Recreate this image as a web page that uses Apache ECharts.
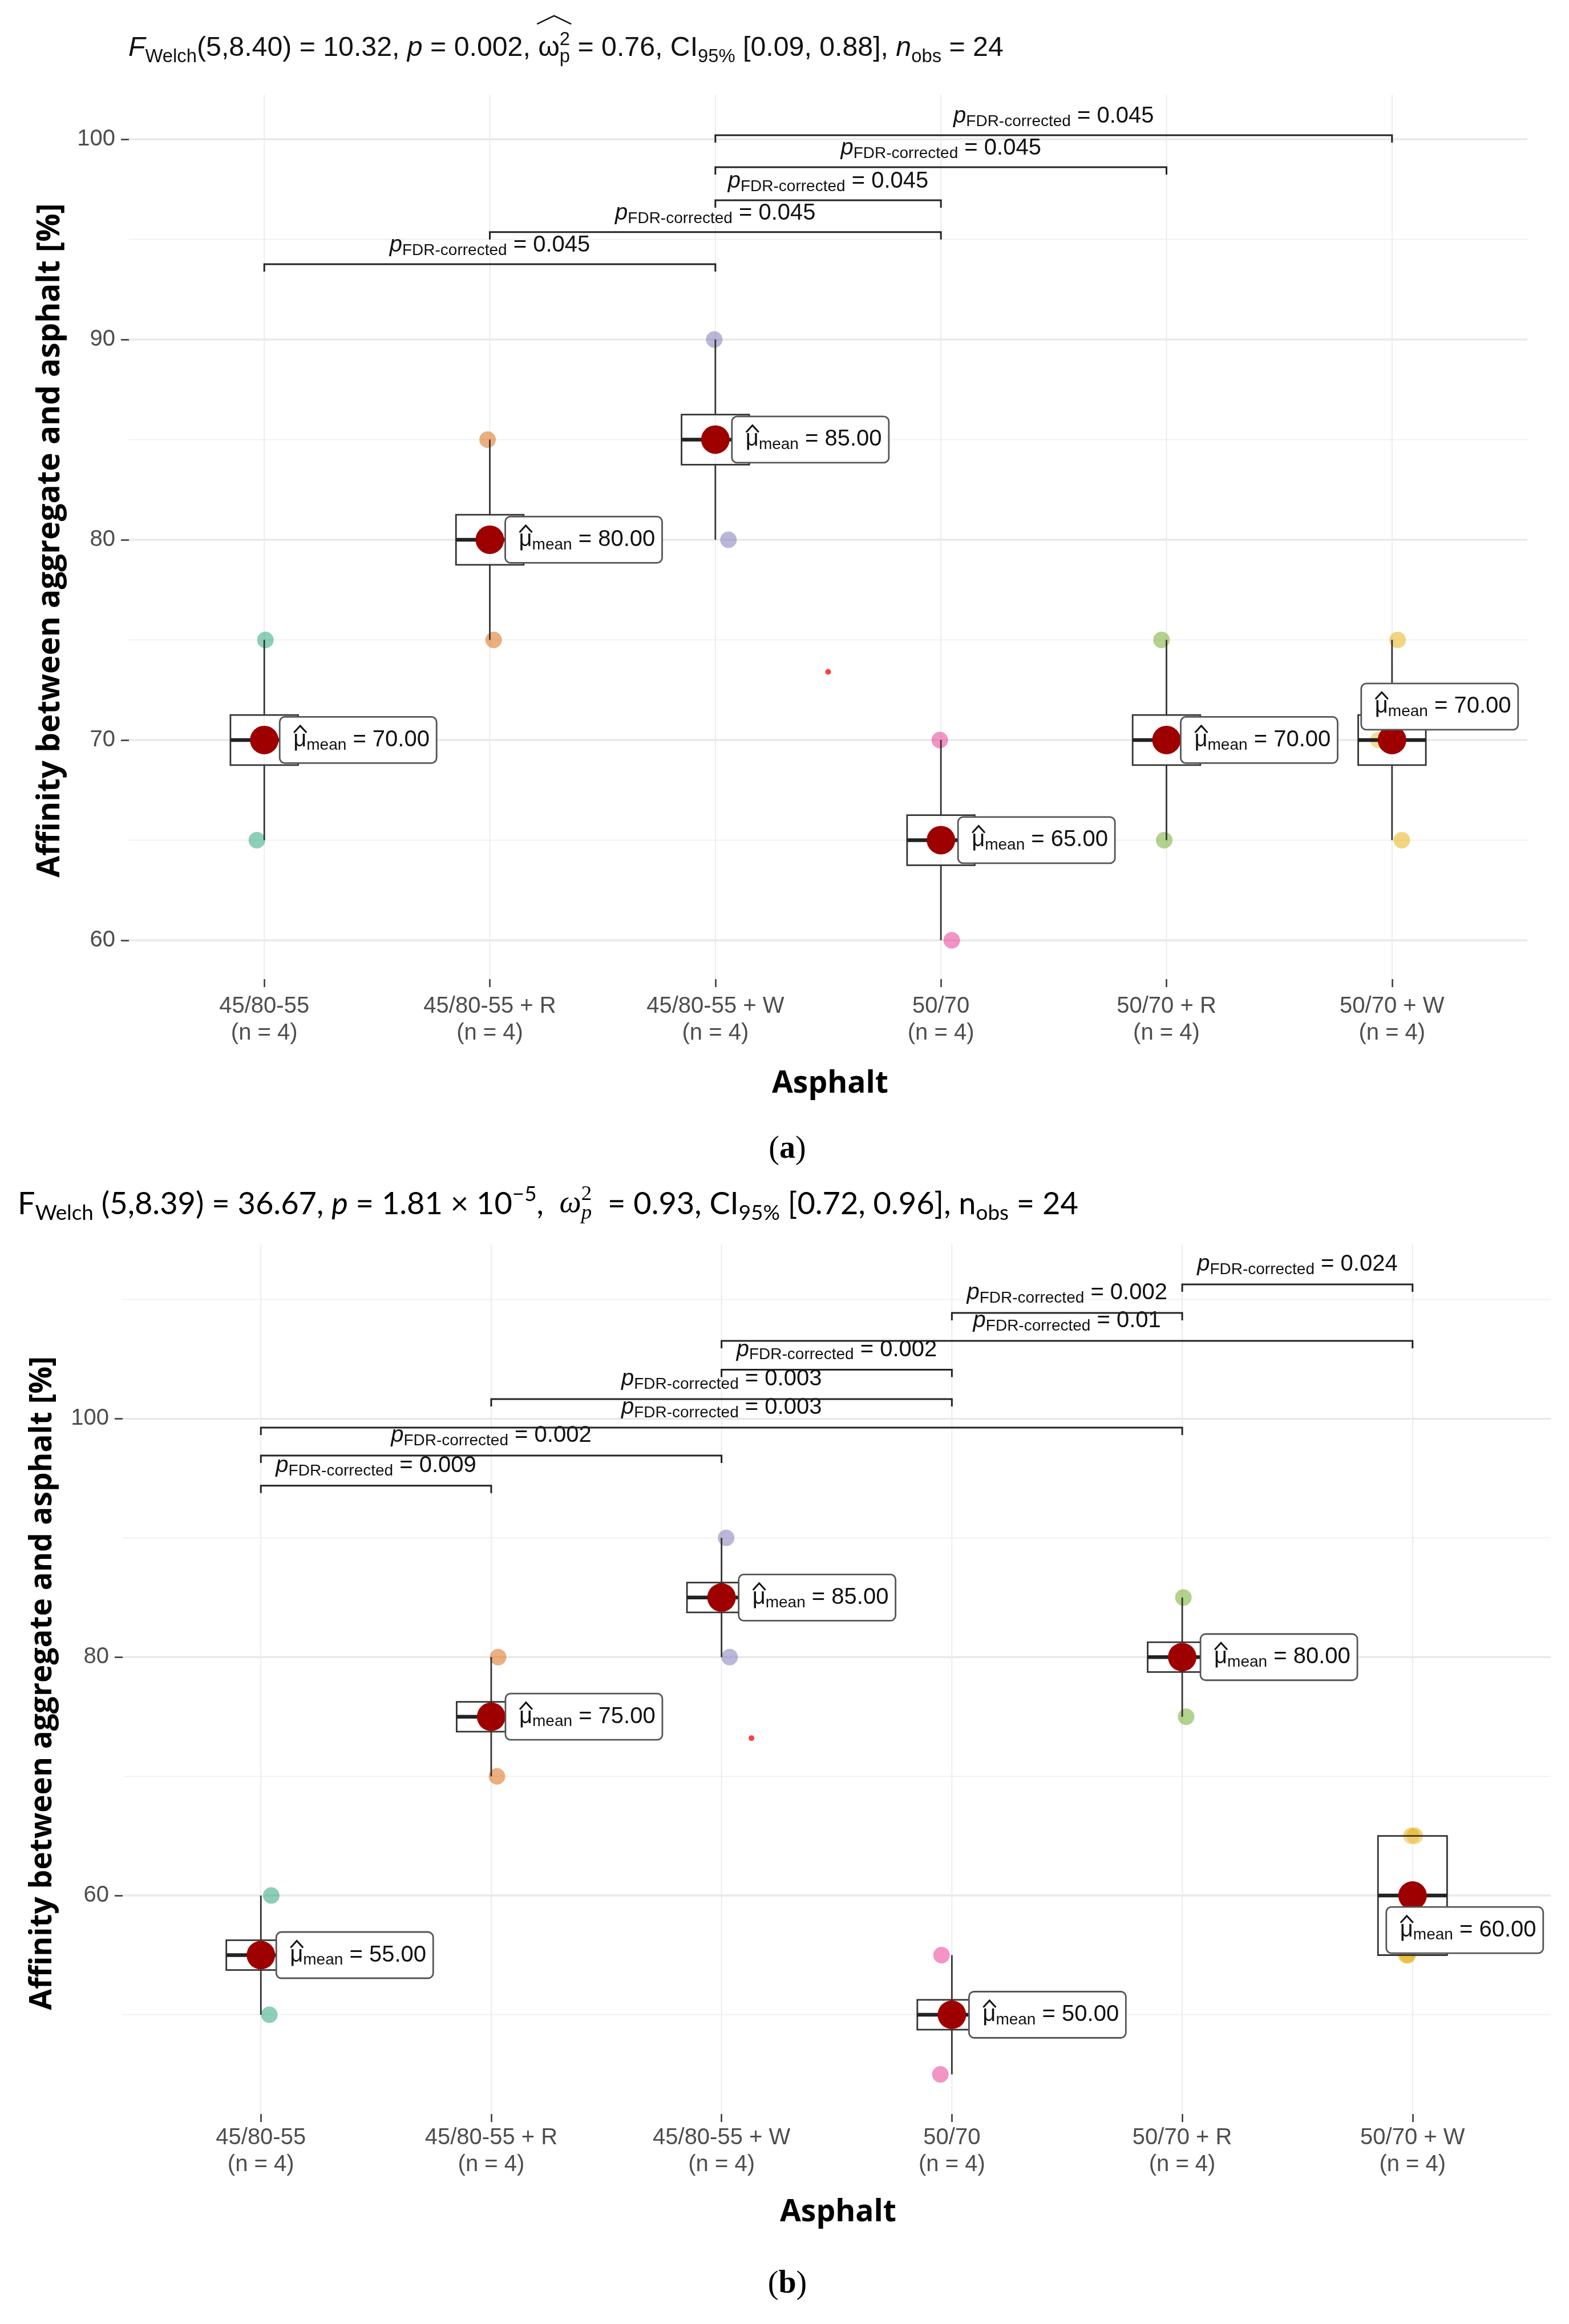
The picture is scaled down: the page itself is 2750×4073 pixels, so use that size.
<!DOCTYPE html>
<html><head><meta charset="utf-8">
<script src="https://cdn.jsdelivr.net/npm/echarts@6/dist/echarts.min.js"></script>
<style>html,body{margin:0;padding:0;background:#fff}#c{width:2750px;height:4073px}</style>
</head><body><div id="c"></div>
<script>
// ================= DATA =================
const groups = ['45/80-55', '45/80-55 + R', '45/80-55 + W', '50/70', '50/70 + R', '50/70 + W'];

// panel (a)
const valuesA = [[75, 70, 70, 65], [85, 80, 80, 75], [90, 85, 85, 80], [70, 65, 65, 60], [75, 70, 70, 65], [75, 70, 70, 65]];
const jitterA = [[0.005, -0.02, 0.02, -0.033], [-0.01, 0.02, -0.02, 0.017], [-0.005, 0.02, -0.02, 0.058], [-0.005, 0.02, -0.02, 0.048], [-0.022, 0.02, -0.02, -0.01], [0.025, -0.06, 0.02, 0.043]];
const yTicksA = [60, 70, 80, 90, 100];
const yMinorA = [65, 75, 85, 95];
const pairsA = [[0, 2], [1, 3], [2, 3], [2, 4], [2, 5]];
const pHeightsA = [93.76, 95.36, 96.95, 98.6, 100.2];
const pValuesA = ['0.045', '0.045', '0.045', '0.045', '0.045'];
const strayA = [[2.5, 73.4]];
const titleA = { F: '(5,8.40) = 10.32, ', p: ' = 0.002, ', w: ' = 0.76, CI', ci: ' [0.09, 0.88], ', n: ' = 24' };

// panel (b)
const valuesB = [[60, 55, 55, 50], [80, 75, 75, 70], [90, 85, 85, 80], [55, 50, 50, 45], [85, 80, 80, 75], [65, 65, 55, 55]];
const jitterB = [[0.045, 0.02, -0.02, 0.037], [0.03, 0.02, -0.02, 0.025], [0.02, 0.02, -0.02, 0.035], [-0.045, 0.02, -0.02, -0.05], [0.005, 0.02, -0.02, 0.017], [-0.005, 0.01, -0.027, -0.02]];
const yTicksB = [60, 80, 100];
const yMinorB = [50, 70, 90, 110];
const pairsB = [[0, 1], [0, 2], [0, 4], [1, 3], [2, 3], [2, 5], [3, 4], [4, 5]];
const pHeightsB = [94.38, 96.91, 99.26, 101.65, 104.11, 106.53, 108.88, 111.27];
const pValuesB = ['0.009', '0.002', '0.003', '0.003', '0.002', '0.01', '0.002', '0.024'];
const strayB = [[2.13, 73.2]];
const titleB = { F: ' (5,8.39) = 36.67, ', p: ' = 1.81 × 10', exp: '−5', w: '  = 0.93, CI', ci: ' [0.72, 0.96], n', n: ' = 24' };

const yTitle = 'Affinity between aggregate and asphalt [%]';
const xTitle = 'Asphalt';

// ================= STYLE / LAYOUT =================
const palette = ['#1B9E77', '#D95F02', '#7570B3', '#E7298A', '#66A61E', '#E6AB02'];
const FONT = "'Liberation Sans', Arial, Helvetica, sans-serif";
const TITLE_FONT = "'Open Sans', 'DejaVu Sans', sans-serif";
const W = 2750, H = 4073;
const PANELS = [
  { grid: { left: 226, right: 73, top: 166, height: 1550 }, ymin: 58.06, ymax: 102.22,
    labelDx: [27, 27, 29, 30, 25, -54], labelShift: [0, 0, 0, 0, 0, 1.67],
    xLabelMargin: 24, bracketGap: 33,
    titleX: 225, titleBase: 100, titleW: 1534,
    yTitleX: 88, yTitleY: 947, yTitleLen: 1182,
    xTitleX: 1455, xTitleY: 1900, tagY: 2015 },
  { grid: { left: 215, right: 32, top: 2181, height: 1524 }, ymin: 41.67, ymax: 114.62,
    labelDx: [27, 25, 30, 30, 32, -46], labelShift: [0, 0, 0, 0, 0, -2.9],
    xLabelMargin: 18, bracketGap: 35,
    titleX: 31, titleBase: 2127, titleW: 1859,
    yTitleX: 75, yTitleY: 2950, yTitleLen: 1146,
    xTitleX: 1469, xTitleY: 3878, tagY: 4004 }
];
const BOX_W = 0.3;
const LBL_W = 275, LBL_H = 81, LBL_PAD = 24;

// ================= HELPERS =================
function quantile(sorted, q) {
  const pos = (sorted.length - 1) * q, lo = Math.floor(pos), hi = Math.ceil(pos);
  return sorted[lo] + (sorted[hi] - sorted[lo]) * (pos - lo);
}
function boxStats(vals) {
  const s = vals.slice().sort((a, b) => a - b);
  const q1 = quantile(s, 0.25), med = quantile(s, 0.5), q3 = quantile(s, 0.75);
  const iqr = q3 - q1;
  const lo = Math.min(...s.filter(v => v >= q1 - 1.5 * iqr - 1e-9));
  const hi = Math.max(...s.filter(v => v <= q3 + 1.5 * iqr + 1e-9));
  return [q1, med, q3, lo, hi];
}
const mean = a => a.reduce((x, y) => x + y, 0) / a.length;

const mctx = document.createElement('canvas').getContext('2d');
function measure(t, size, o) {
  mctx.font = `${o.i ? 'italic ' : ''}${o.b ? 'bold ' : ''}${size}px ${o.fam}`;
  return mctx.measureText(t).width;
}
function buildRow(parts, x0, baseline, targetW, S0, fam, color) {
  function run(S, emit) {
    let x = x0, pendingW = 0; const els = []; const marks = {};
    for (const p of parts) {
      const k = p.k || 'n';
      const small = (k === 'sub' || k === 'sup');
      const size = small ? S * 0.68 : S;
      const o = { i: !!p.i, b: !!p.b, fam: p.fam || fam };
      const w = measure(p.t, size, o);
      const base = baseline + (k === 'sub' ? S * 0.2 : k === 'sup' ? -S * 0.42 : 0);
      if (p.markStart) marks.start = x;
      if (emit) els.push({ type: 'text', x: x, y: base - 0.31 * size, silent: true,
        style: { text: p.t, fontSize: size, fontFamily: o.fam, fontStyle: o.i ? 'italic' : 'normal',
          fontWeight: o.b ? 'bold' : 'normal', fill: color, align: 'left', verticalAlign: 'middle' } });
      if (p.stack) { pendingW = w; } else { x += Math.max(w, pendingW); pendingW = 0; }
      if (p.markEnd) marks.end = x;
    }
    return { w: x - x0, els, marks };
  }
  let S = S0;
  if (targetW) { const r = run(S0, false); S = S0 * targetW / r.w; }
  const res = run(S, true); res.S = S; return res;
}
function fitSize(text, len, o, S0) { return S0 * len / measure(text, S0, o); }

// ================= RENDERERS =================
function gridRenderer(params, api) {
  const kind = api.value(0), v = api.value(1);
  const cs = params.coordSys;
  if (kind === 2) {
    const x = api.coord([v, 0])[0];
    return { type: 'line', silent: true, shape: { x1: x, y1: cs.y, x2: x, y2: cs.y + cs.height }, style: { stroke: '#ececec', lineWidth: 2 } };
  }
  const y = api.coord([0, v])[1];
  return { type: 'line', silent: true, shape: { x1: cs.x, y1: y, x2: cs.x + cs.width, y2: y },
    style: { stroke: kind === 0 ? '#e9e9e9' : '#f2f2f2', lineWidth: kind === 0 ? 3.5 : 2 } };
}
function boxRenderer(params, api) {
  const x = api.value(0), q1 = api.value(1), med = api.value(2), q3 = api.value(3), lo = api.value(4), hi = api.value(5);
  const tl = api.coord([x - BOX_W / 2, q3]);
  const br = api.coord([x + BOX_W / 2, q1]);
  const c = api.coord([x, med]);
  const pLo = api.coord([x, lo]), pHi = api.coord([x, hi]);
  const ch = [];
  const ws = { stroke: '#333', lineWidth: 2.8 };
  if (hi > q3) ch.push({ type: 'line', shape: { x1: c[0], y1: pHi[1], x2: c[0], y2: tl[1] }, style: ws });
  if (lo < q1) ch.push({ type: 'line', shape: { x1: c[0], y1: br[1], x2: c[0], y2: pLo[1] }, style: ws });
  ch.push({ type: 'rect', shape: { x: tl[0], y: tl[1], width: br[0] - tl[0], height: br[1] - tl[1] }, style: { fill: 'rgba(255,255,255,0.2)', stroke: '#333', lineWidth: 2.8 } });
  ch.push({ type: 'line', shape: { x1: tl[0], y1: c[1], x2: br[0], y2: c[1] }, style: { stroke: '#222', lineWidth: 6.5 } });
  return { type: 'group', silent: true, children: ch };
}
const LBL_RICH = {
  mu: { fontSize: 40, fontFamily: FONT, lineHeight: 46, fill: '#111' },
  sub: { fontSize: 28, fontFamily: FONT, lineHeight: 18, verticalAlign: 'bottom', fill: '#111' },
  eq: { fontSize: 40, fontFamily: FONT, lineHeight: 46, fill: '#111' }
};
function makeLabelRenderer(panel, means) {
  return function (params, api) {
    const i = params.dataIndex;
    const p = api.coord([api.value(0), api.value(1) + panel.labelShift[i]]);
    const left = p[0] + panel.labelDx[i], top = p[1] - LBL_H / 2;
    const tx = left + LBL_PAD;
    return { type: 'group', silent: true, children: [
      { type: 'rect', shape: { x: left, y: top, width: LBL_W, height: LBL_H, r: 9 }, style: { fill: '#fff', stroke: '#555', lineWidth: 2.8 } },
      { type: 'text', x: tx, y: p[1], style: { text: `{mu|μ}{sub|mean}{eq| = ${means[i].toFixed(2)}}`, rich: LBL_RICH, align: 'left', verticalAlign: 'middle', fill: '#111', fontSize: 40, fontFamily: FONT } },
      { type: 'polyline', shape: { points: [[tx + 1, p[1] - 13], [tx + 12, p[1] - 25], [tx + 23, p[1] - 13]] }, style: { stroke: '#111', lineWidth: 3, fill: null } }
    ] };
  };
}
const P_RICH = {
  p: { fontSize: 40, fontFamily: FONT, fontStyle: 'italic', lineHeight: 46, fill: '#111' },
  sub: { fontSize: 28, fontFamily: FONT, lineHeight: 18, verticalAlign: 'bottom', fill: '#111' },
  eq: { fontSize: 40, fontFamily: FONT, lineHeight: 46, fill: '#111' }
};
function makeBracketRenderer(pvals, gap) {
  return function (params, api) {
    const i = params.dataIndex;
    const a = api.coord([api.value(0), api.value(2)]);
    const b = api.coord([api.value(1), api.value(2)]);
    const leg = 13;
    return { type: 'group', silent: true, children: [
      { type: 'polyline', shape: { points: [[a[0], a[1] + leg], [a[0], a[1]], [b[0], b[1]], [b[0], b[1] + leg]] }, style: { stroke: '#222', lineWidth: 3, fill: null } },
      { type: 'text', x: (a[0] + b[0]) / 2, y: a[1] - gap, style: { text: `{p|p}{sub|FDR-corrected}{eq| = ${pvals[i]}}`, rich: P_RICH, align: 'center', verticalAlign: 'middle', fill: '#111', fontSize: 40, fontFamily: FONT } }
    ] };
  };
}

// ================= BUILD OPTION =================
const dataSets = [
  { values: valuesA, jitter: jitterA, ticks: yTicksA, minor: yMinorA, pairs: pairsA, heights: pHeightsA, pvals: pValuesA, stray: strayA },
  { values: valuesB, jitter: jitterB, ticks: yTicksB, minor: yMinorB, pairs: pairsB, heights: pHeightsB, pvals: pValuesB, stray: strayB }
];
const grids = [], xAxes = [], yAxes = [], series = [], graphics = [];
const catIdx = groups.map((_, i) => i);

dataSets.forEach((d, k) => {
  const P = PANELS[k];
  grids.push(Object.assign({ containLabel: false }, P.grid));
  xAxes.push({ gridIndex: k, type: 'value', min: -0.6, max: 5.6, position: 'bottom',
    axisLine: { show: false, onZero: false }, splitLine: { show: false },
    axisTick: { show: true, customValues: catIdx, length: 14, lineStyle: { color: '#333', width: 2.5 } },
    axisLabel: { customValues: catIdx, margin: P.xLabelMargin, fontSize: 40, lineHeight: 47, color: '#4d4d4d', fontFamily: FONT,
      formatter: v => { const i = Math.round(v); return groups[i] + '\n(n = ' + d.values[i].length + ')'; } } });
  yAxes.push({ gridIndex: k, type: 'value', min: P.ymin, max: P.ymax, position: 'left',
    axisLine: { show: false, onZero: false }, splitLine: { show: false },
    axisTick: { show: true, customValues: d.ticks, length: 14, lineStyle: { color: '#333', width: 2.5 } },
    axisLabel: { customValues: d.ticks, margin: 24, fontSize: 40, color: '#4d4d4d', fontFamily: FONT } });

  const gridData = d.ticks.map(v => [0, v]).concat(d.minor.map(v => [1, v])).concat(catIdx.map(i => [2, i]));
  series.push({ type: 'custom', xAxisIndex: k, yAxisIndex: k, z: 0, silent: true, renderItem: gridRenderer, data: gridData });

  const pts = [];
  d.values.forEach((vals, i) => vals.forEach((v, j) => pts.push({ value: [i + d.jitter[i][j], v], itemStyle: { color: palette[i] } })));
  series.push({ type: 'scatter', xAxisIndex: k, yAxisIndex: k, z: 2, silent: true, symbolSize: 29, itemStyle: { opacity: 0.5 }, data: pts });

  series.push({ type: 'custom', xAxisIndex: k, yAxisIndex: k, z: 3, silent: true, renderItem: boxRenderer,
    data: d.values.map((vals, i) => [i].concat(boxStats(vals))) });

  const means = d.values.map(mean);
  series.push({ type: 'scatter', xAxisIndex: k, yAxisIndex: k, z: 4, silent: true, symbolSize: 50, itemStyle: { color: '#9e0000', opacity: 1 },
    data: means.map((m, i) => [i, m]) });
  series.push({ type: 'scatter', xAxisIndex: k, yAxisIndex: k, z: 4, silent: true, symbolSize: 10, itemStyle: { color: '#ff1010' }, data: d.stray });

  series.push({ type: 'custom', xAxisIndex: k, yAxisIndex: k, z: 5, silent: true, renderItem: makeLabelRenderer(P, means),
    data: means.map((m, i) => [i, m]) });

  series.push({ type: 'custom', xAxisIndex: k, yAxisIndex: k, z: 5, silent: true, renderItem: makeBracketRenderer(d.pvals, P.bracketGap),
    data: d.pairs.map((pr, i) => [pr[0], pr[1], d.heights[i]]) });

  // axis titles
  const yo = { b: true, fam: TITLE_FONT };
  const ySize = fitSize(yTitle, P.yTitleLen, yo, 48);
  graphics.push({ type: 'text', x: P.yTitleX, y: P.yTitleY, rotation: Math.PI / 2, silent: true,
    style: { text: yTitle, fontSize: ySize, fontFamily: TITLE_FONT, fontWeight: 'bold', fill: '#000', align: 'center', verticalAlign: 'middle' } });
  graphics.push({ type: 'text', x: P.xTitleX, y: P.xTitleY, silent: true,
    style: { text: xTitle, fontSize: fitSize(xTitle, 204, yo, 50), fontFamily: TITLE_FONT, fontWeight: 'bold', fill: '#000', align: 'center', verticalAlign: 'middle' } });
  graphics.push({ type: 'text', x: 1380, y: P.tagY, silent: true,
    style: { text: k === 0 ? '({b|a})' : '({b|b})', fontSize: 56, fontFamily: "'Liberation Serif', serif", fill: '#000', align: 'center', verticalAlign: 'middle',
      rich: { b: { fontSize: 56, fontWeight: 'bold', fontFamily: "'Liberation Serif', serif", fill: '#000' } } } });
});

// subtitle (a): ggstatsplot style
const rowA = buildRow([
  { t: 'F', i: true }, { t: 'Welch', k: 'sub' }, { t: titleA.F }, { t: 'p', i: true }, { t: titleA.p },
  { t: 'ω', markStart: true }, { t: '2', k: 'sup', stack: true }, { t: 'p', k: 'sub', markEnd: true },
  { t: titleA.w }, { t: '95%', k: 'sub' }, { t: titleA.ci }, { t: 'n', i: true }, { t: 'obs', k: 'sub' }, { t: titleA.n }
], PANELS[0].titleX, PANELS[0].titleBase, PANELS[0].titleW, 42, FONT, '#111');
graphics.push(...rowA.els);
{
  const S = rowA.S, b = PANELS[0].titleBase, x1 = rowA.marks.start - 2, x2 = rowA.marks.end + 2;
  graphics.push({ type: 'polyline', silent: true, shape: { points: [[x1, b - 1.2 * S], [(x1 + x2) / 2, b - 1.5 * S], [x2, b - 1.2 * S]] }, style: { stroke: '#111', lineWidth: 2.5, fill: null } });
}
// subtitle (b): word-processor style
const SERIF = "'Liberation Serif', serif";
const rowB = buildRow([
  { t: 'F' }, { t: 'Welch', k: 'sub' }, { t: titleB.F }, { t: 'p', i: true }, { t: titleB.p }, { t: titleB.exp, k: 'sup' }, { t: ',  ' },
  { t: 'ω', i: true, fam: SERIF }, { t: '2', k: 'sup', stack: true, fam: SERIF }, { t: 'p', k: 'sub', i: true, fam: SERIF },
  { t: titleB.w }, { t: '95%', k: 'sub' }, { t: titleB.ci }, { t: 'obs', k: 'sub' }, { t: titleB.n }
], PANELS[1].titleX, PANELS[1].titleBase, PANELS[1].titleW, 42, "Lato, 'Open Sans', sans-serif", '#000');
graphics.push(...rowB.els);

const option = {
  animation: false,
  backgroundColor: '#ffffff',
  grid: grids, xAxis: xAxes, yAxis: yAxes, series: series,
  graphic: { elements: graphics }
};
const chart = echarts.init(document.getElementById('c'), null, { renderer: 'canvas', width: W, height: H });
chart.setOption(option);
</script>
</body></html>
